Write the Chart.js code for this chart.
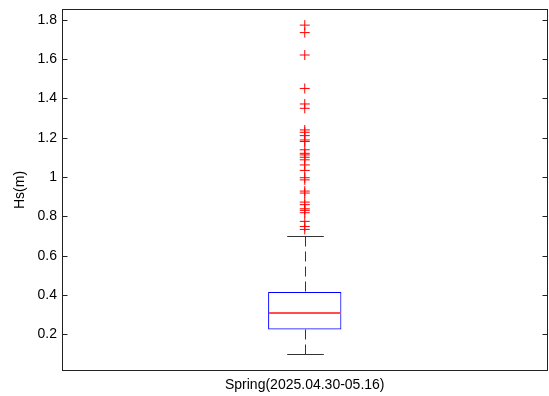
<!DOCTYPE html>
<html>
<head>
<meta charset="utf-8">
<script src="https://cdn.jsdelivr.net/npm/chart.js@4.4.1/dist/chart.umd.min.js"></script>
<style>
  html, body { margin: 0; padding: 0; background: #fff; }
  canvas { display: block; }
</style>
</head>
<body>
<canvas id="boxChart" width="549" height="396"></canvas>
<script>
// box plot summary (Hs in metres)
const categories = ["Spring(2025.04.30-05.16)"];
const boxLow = [0.225];
const boxHigh = [0.416];
const medians = [0.310];
const whiskerLow = [0.100];
const whiskerHigh = [0.700];
const outliers = [
    1.773, 1.735, 1.621, 1.451, 1.372, 1.350, 1.240, 1.228, 1.211, 1.189,
    1.181, 1.139, 1.121, 1.113, 1.101, 1.088, 1.062, 1.034, 0.997, 0.986,
    0.929, 0.919, 0.873, 0.860, 0.839, 0.831, 0.819, 0.775, 0.749, 0.734
];
const yTicks = [0.2, 0.4, 0.6, 0.8, 1.0, 1.2, 1.4, 1.6, 1.8];
const yMin = 0.014, yMax = 1.855;

const font = { family: "'Liberation Sans', Arial, sans-serif", size: 14 };

// whiskers, caps and median line, placed with the chart's own scales
const boxParts = {
    id: "boxParts",
    beforeDatasetsDraw(chart) {
        const ctx = chart.ctx;
        const y = chart.scales.y;
        const bars = chart.getDatasetMeta(0).data;
        bars.forEach((bar, i) => {
            const cx = Math.round(bar.x) + 0.5;
            const capHalf = bar.width / 4;
            const yq1 = y.getPixelForValue(boxLow[i]);
            const yq3 = y.getPixelForValue(boxHigh[i]);
            const ylo = Math.round(y.getPixelForValue(whiskerLow[i])) + 0.5;
            const yhi = Math.round(y.getPixelForValue(whiskerHigh[i])) + 0.5;
            ctx.save();
            ctx.strokeStyle = "#333";
            ctx.lineWidth = 1;
            ctx.setLineDash([10, 5]);
            ctx.beginPath();
            ctx.moveTo(cx, yhi); ctx.lineTo(cx, yq3);
            ctx.moveTo(cx, ylo); ctx.lineTo(cx, yq1);
            ctx.stroke();
            ctx.setLineDash([]);
            ctx.beginPath();
            ctx.moveTo(cx - capHalf, yhi); ctx.lineTo(cx + capHalf, yhi);
            ctx.moveTo(cx - capHalf, ylo); ctx.lineTo(cx + capHalf, ylo);
            ctx.stroke();
            ctx.restore();
        });
    },
    afterDatasetDraw(chart, args) {
        if (args.index !== 0) return;
        const ctx = chart.ctx;
        const y = chart.scales.y;
        args.meta.data.forEach((bar, i) => {
            const half = bar.width / 2;
            const ym = Math.round(y.getPixelForValue(medians[i]));
            ctx.save();
            ctx.setLineDash([]);
            ctx.lineWidth = 2;
            ctx.strokeStyle = "#ff4d4d";
            ctx.beginPath();
            ctx.moveTo(bar.x - half + 1, ym); ctx.lineTo(bar.x + half - 1, ym);
            ctx.stroke();
            ctx.restore();
        });
    }
};

// matlab style frame with inward ticks on both sides
const frame = {
    id: "frame",
    afterDraw(chart) {
        const { ctx, chartArea: a } = chart;
        const y = chart.scales.y;
        const l = Math.round(a.left) + 0.5, r = Math.round(a.right) - 0.5;
        const t = Math.round(a.top) + 0.5, b = Math.round(a.bottom) - 0.5;
        ctx.save();
        ctx.strokeStyle = "#222";
        ctx.lineWidth = 1;
        ctx.strokeRect(l, t, r - l, b - t);
        ctx.beginPath();
        yTicks.forEach(v => {
            const py = Math.round(y.getPixelForValue(v)) + 0.5;
            ctx.moveTo(l, py); ctx.lineTo(l + 5, py);
            ctx.moveTo(r, py); ctx.lineTo(r - 5, py);
        });
        ctx.stroke();
        ctx.restore();
    }
};

new Chart(document.getElementById("boxChart"), {
    data: {
        labels: categories,
        datasets: [
            {
                type: "bar",
                data: categories.map((c, i) => [boxLow[i], boxHigh[i]]),
                backgroundColor: "rgba(0,0,0,0)",
                borderColor: "#0000ff",
                borderWidth: 1,
                borderSkipped: false,
                barPercentage: 0.151,
                categoryPercentage: 1
            },
            {
                type: "scatter",
                data: outliers.map(v => ({ x: categories[0], y: v })),
                pointStyle: "cross",
                pointRadius: 5,
                borderColor: "#ff0000",
                borderWidth: 1
            }
        ]
    },
    options: {
        responsive: false,
        animation: false,
        layout: { autoPadding: false, padding: { top: 9, right: 1.5, left: 0, bottom: 0 } },
        plugins: { legend: { display: false }, tooltip: { enabled: false } },
        scales: {
            x: {
                type: "category",
                offset: true,
                grid: { display: false, drawTicks: false },
                border: { display: false },
                ticks: { color: "#000", font: font, padding: 6, maxRotation: 0 },
                afterFit: s => {
                    s.height = 25;
                    s.paddingLeft = 0;
                    s.paddingRight = 0;
                }
            },
            y: {
                type: "linear",
                min: yMin,
                max: yMax,
                grid: { display: false, drawTicks: false },
                border: { display: false },
                afterBuildTicks: s => { s.ticks = yTicks.map(v => ({ value: v })); },
                ticks: {
                    color: "#000",
                    font: font,
                    padding: 5,
                    callback: v => String(+Number(v).toFixed(1))
                },
                title: {
                    display: true,
                    text: "Hs(m)",
                    color: "#000",
                    font: font,
                    padding: { top: 12, bottom: 0 }
                },
                afterFit: s => {
                    s.width = 62;
                    s.paddingTop = 0;
                    s.paddingBottom = 0;
                }
            }
        }
    },
    plugins: [boxParts, frame]
});
</script>
</body>
</html>
